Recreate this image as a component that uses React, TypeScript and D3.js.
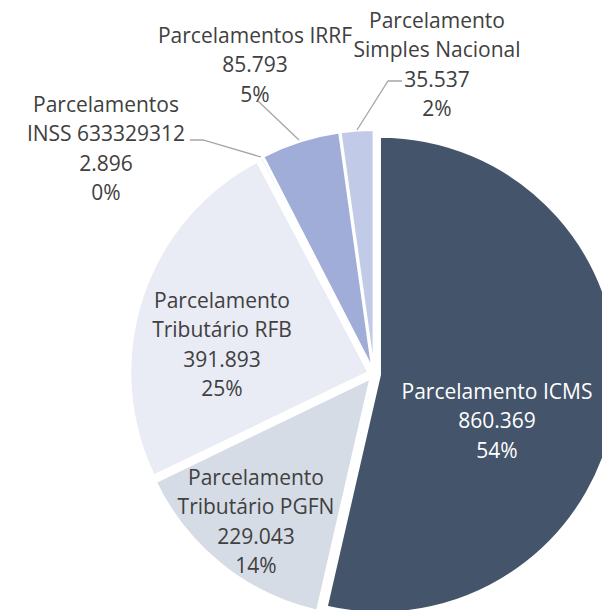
import React, { useRef, useEffect } from "react";
import * as d3 from "d3";

// data
const categories = [
  ["Parcelamento ICMS"],
  ["Parcelamento", "Tributário PGFN"],
  ["Parcelamento", "Tributário RFB"],
  ["Parcelamentos", "INSS 633329312"],
  ["Parcelamentos IRRF"],
  ["Parcelamento", "Simples Nacional"],
];
const values = [860369, 229043, 391893, 2896, 85793, 35537];
const pctLabels = ["54%", "14%", "25%", "0%", "5%", "2%"];
const colors = ["#44546A", "#D6DCE5", "#E9EBF5", "#E4E8F4", "#A0ADD8", "#C1CAE6"];

// label layout (centre x, first baseline y)
const labelPos: [number, number][] = [
  [497, 399],
  [256, 485],
  [222, 308],
  [106, 112],
  [255, 43],
  [437, 28],
];
const leaders: [number, number][][] = [
  [],
  [],
  [],
  [[190, 140], [203, 140], [261, 157]],
  [[258, 101], [299, 140]],
  [[402, 81], [388, 81], [357, 130]],
];

const W = 602;
const H = 610;
const cx = 374;
const cy = 374;
const R = 238;
const explode = 6;
const lineH = 29.3;

const locale = d3.formatLocale({ decimal: ",", thousands: ".", grouping: [3], currency: ["R$", ""] });
const fmt = locale.format(",d");

const App = () => {
  const ref = useRef<SVGSVGElement>(null);

  useEffect(() => {
    const svg = d3.select(ref.current);
    svg.selectAll("*").remove();

    const pie = d3.pie<number>().sort(null).value((d) => d);
    const arcs = pie(values);
    const arc = d3.arc<d3.PieArcDatum<number>>().innerRadius(0).outerRadius(R);

    const g = svg.append("g").attr("transform", `translate(${cx}, ${cy})`);
    g.selectAll("path")
      .data(arcs)
      .enter()
      .append("path")
      .attr("d", (d) => arc(d) as string)
      .attr("fill", (d, i) => colors[i])
      .attr("stroke", "#fff")
      .attr("stroke-width", 2)
      .attr("stroke-linejoin", "round")
      .attr("transform", (d) => {
        const a = (d.startAngle + d.endAngle) / 2;
        return `translate(${Math.sin(a) * explode}, ${-Math.cos(a) * explode})`;
      });

    // leader lines
    const line = d3.line();
    leaders.forEach((pts) => {
      if (!pts.length) return;
      svg
        .append("path")
        .attr("d", line(pts) as string)
        .attr("fill", "none")
        .attr("stroke", "#A6A6A6")
        .attr("stroke-width", 1.3);
    });

    // labels
    categories.forEach((names, i) => {
      const lines = [...names, fmt(values[i]), pctLabels[i]];
      const [x, y] = labelPos[i];
      const t = svg
        .append("text")
        .attr("text-anchor", "middle")
        .attr("font-family", "'Open Sans', sans-serif")
        .attr("font-size", 21)
        .attr("fill", i === 0 ? "#FFFFFF" : "#404040");
      lines.forEach((s, j) => {
        t.append("tspan").attr("x", x).attr("y", y + j * lineH).text(s);
      });
    });
  }, []);

  return (
    <svg
      ref={ref}
      width={W}
      height={H}
      style={{ position: "absolute", left: 0, top: 0, background: "#fff" }}
    ></svg>
  );
};

export default App;
